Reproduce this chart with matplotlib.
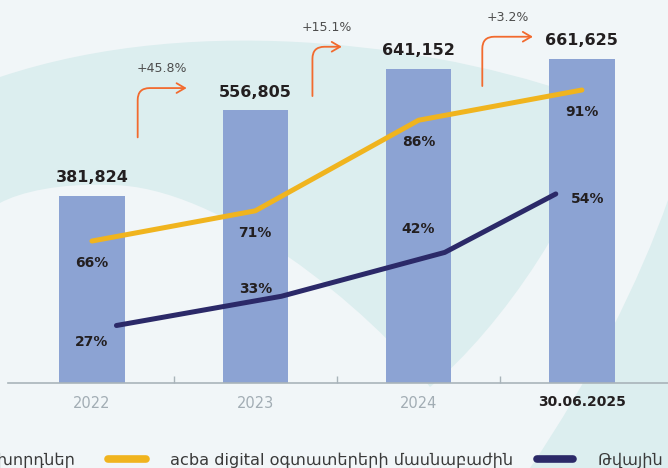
import numpy as np
import matplotlib.pyplot as plt
import matplotlib.transforms as mtransforms
from matplotlib.path import Path
from matplotlib.patches import PathPatch

# data
categories = ["2022", "2023", "2024", "30.06.2025"]
customers = [381824, 556805, 641152, 661625]
acba_digital_share = [66, 71, 86, 91]
digital_share = [27, 33, 42, 54]
legend_labels = ["Հաճախորդներ",
                 "acba digital օգտատերերի մասնաբաժին",
                 "Թվային հաճախորդների մասնաբաժին"]

BG = "#F1F6F8"
TEAL = "#DCEEEF"
BAR = "#8CA3D3"
YELLOW = "#F0B41E"
NAVY = "#2B2968"
ORANGE = "#F26A2E"
INK = "#231F20"

plt.rcParams['font.family'] = ['DejaVu Sans']

fig = plt.figure(figsize=(6.68, 4.68), dpi=100)
fig.patch.set_facecolor(BG)

# background decoration, drawn in pixel coordinates
bg = fig.add_axes([0, 0, 1, 1], zorder=0)
bg.set_xlim(0, 668)
bg.set_ylim(468, 0)
bg.axis('off')
M, C4, L, CL = Path.MOVETO, Path.CURVE4, Path.LINETO, Path.CLOSEPOLY
lens = Path([(-10, 80), (0, 77), (200, 10), (450, 45), (605, 105),
             (590, 200), (500, 330), (430, 387),
             (370, 310), (220, 185), (110, 185),
             (60, 183), (20, 192), (0, 203),
             (-10, 205), (-10, 80)],
            [M, L, C4, C4, C4, C4, C4, C4, C4, C4, C4, C4, C4, C4, L, CL])
bg.add_patch(PathPatch(lens, fc=TEAL, ec='none'))
swoosh = Path([(668, 200), (640, 280), (590, 380), (530, 468),
               (530, 480), (700, 480), (700, 200), (668, 200)],
              [M, C4, C4, C4, L, L, L, CL])
bg.add_patch(PathPatch(swoosh, fc=TEAL, ec='none'))

# legend (cut at both edges like the original)
bg.text(75, 465, legend_labels[0], ha='right', va='baseline', fontsize=11.6, color='#3A3A3A')
bg.plot([108, 146], [459, 459], color=YELLOW, lw=5.5, solid_capstyle='round')
bg.text(170, 465, legend_labels[1], ha='left', va='baseline', fontsize=11.6, color='#3A3A3A')
bg.plot([537, 573], [459, 459], color=NAVY, lw=5.5, solid_capstyle='round')
bg.text(598, 465, legend_labels[2], ha='left', va='baseline', fontsize=11.6, color='#3A3A3A')

# bars
ax = fig.add_axes([8 / 668, 85 / 468, 660 / 668, 383 / 468], zorder=1)
ax.patch.set_alpha(0)
x = np.arange(len(categories))
ax.bar(x, customers, width=0.4, color=BAR, zorder=2)
ax.set_xlim(-0.514, 3.527)
ax.set_ylim(0, 782000)
for s in ['top', 'right', 'left']:
    ax.spines[s].set_visible(False)
ax.spines['bottom'].set_color('#A9B4BA')
ax.spines['bottom'].set_linewidth(1.2)
ax.set_yticks([])
ax.set_xticks(x)
ax.set_xticklabels(categories, fontsize=10.5, color='#A2ADB4')
ax.get_xticklabels()[-1].set_fontweight('bold')
ax.get_xticklabels()[-1].set_color(INK)
ax.get_xticklabels()[-1].set_fontsize(10)
ax.tick_params(axis='x', length=0, pad=9)
ax.set_xticks(x[:-1] + 0.5, minor=True)
ax.tick_params(axis='x', which='minor', direction='in', length=5, width=1, color='#A9B4BA')

for i, v in enumerate(customers):
    ax.annotate(f"{v:,}", (i, v), xytext=(0, 13), textcoords='offset points',
                ha='center', va='center', fontsize=11.5, weight='bold', color=INK)

# growth arrows
stem_x = [0.28, 1.35, 2.39]
head_x = [0.58, 1.53, 2.70]
def shifted(dy_pt):
    return ax.transData + mtransforms.ScaledTranslation(0, dy_pt / 72, fig.dpi_scale_trans)
for i in range(len(customers) - 1):
    g = (customers[i + 1] / customers[i] - 1) * 100
    top = customers[i + 1]
    ax.annotate('', xy=(head_x[i], top), xycoords=shifted(16),
                xytext=(stem_x[i], top), textcoords=shifted(-19.5),
                arrowprops=dict(arrowstyle='->,head_length=0.6,head_width=0.35',
                                color=ORANGE, lw=1.3, shrinkA=0, shrinkB=0,
                                connectionstyle='angle,angleA=90,angleB=0,rad=12'))
    ax.annotate(f"+{g:.1f}%", ((stem_x[i] + head_x[i]) / 2, top), xycoords=shifted(30),
                ha='center', va='center', fontsize=9, color='#4D4D4D')

# share lines, each on its own scale
ax_y = ax.twinx()
ax_y.set_zorder(2)
ax_y.axis('off')
ax_y.plot(x, acba_digital_share, color=YELLOW, lw=3.6, solid_capstyle='round',
          solid_joinstyle='round')
ax_y.set_ylim(42.5, 105.9)
for i, p in enumerate(acba_digital_share):
    ax_y.annotate(f"{p}%", (i, p), xytext=(0, -16), textcoords='offset points',
                  ha='center', va='center', fontsize=10, weight='bold', color=INK)

navy_shift = np.array([0.15, 0.16, 0.16, -0.16])
navy_dy = [-12, 5, 17, -4]
ax_d = ax.twinx()
ax_d.set_zorder(3)
ax_d.axis('off')
ax_d.plot(x + navy_shift, digital_share, color=NAVY, lw=3.6, solid_capstyle='round',
          solid_joinstyle='round')
ax_d.set_ylim(15.2, 93.8)
for i, p in enumerate(digital_share):
    ax_d.annotate(f"{p}%", (i, p), xytext=(4 if i == 3 else 0, navy_dy[i]),
                  textcoords='offset points',
                  ha='center', va='center', fontsize=10, weight='bold', color=INK)

fig.savefig("out.png", dpi=100, facecolor=BG)
